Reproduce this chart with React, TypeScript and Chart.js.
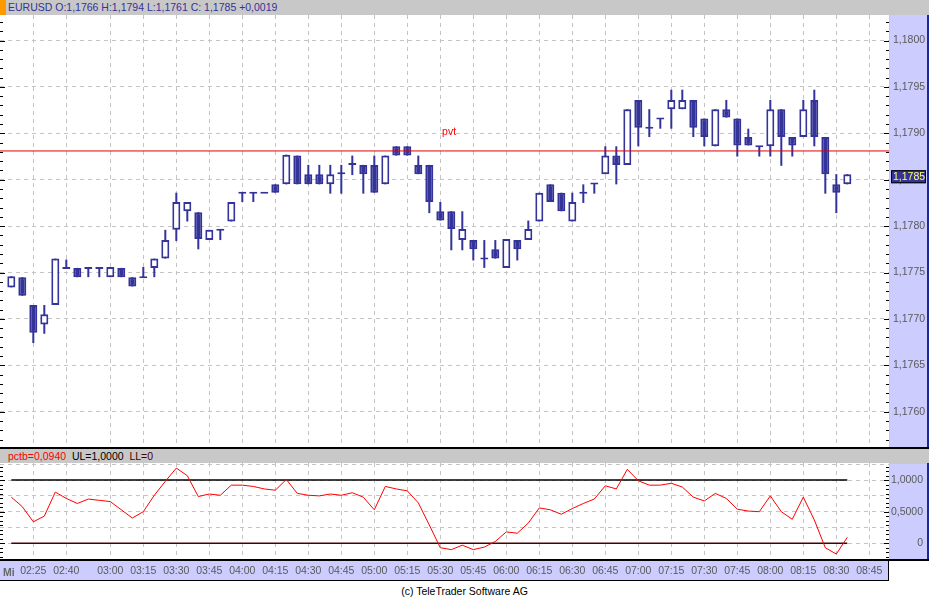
import React, { useEffect, useRef } from "react";
import { Chart, registerables } from "chart.js";
Chart.register(...registerables);

// ---------- data ----------
const times = [
  "02:15","02:20","02:25","02:30","02:35","02:40","02:45","02:50","02:55","03:00",
  "03:05","03:10","03:15","03:20","03:25","03:30","03:35","03:40","03:45","03:50",
  "03:55","04:00","04:05","04:10","04:15","04:20","04:25","04:30","04:35","04:40",
  "04:45","04:50","04:55","05:00","05:05","05:10","05:15","05:20","05:25","05:30",
  "05:35","05:40","05:45","05:50","05:55","06:00","06:05","06:10","06:15","06:20",
  "06:25","06:30","06:35","06:40","06:45","06:50","06:55","07:00","07:05","07:10",
  "07:15","07:20","07:25","07:30","07:35","07:40","07:45","07:50","07:55","08:00",
  "08:05","08:10","08:15","08:20","08:25","08:30","08:35",
];

const opens = [
  1.17734,1.17745,1.17715,1.17694,1.17715,1.17755,1.17755,1.17755,1.17755,1.17745,
  1.17755,1.17745,1.17745,1.17755,1.17765,1.17796,1.17816,1.17815,1.17785,1.17796,
  1.17805,1.17836,1.17836,1.17836,1.17845,1.17845,1.17876,1.17856,1.17856,1.17845,
  1.17857,1.17867,1.17866,1.17866,1.17845,1.17886,1.17886,1.17866,1.17866,1.17816,
  1.17816,1.17785,1.17785,1.17765,1.17775,1.17755,1.17785,1.17785,1.17805,1.17845,
  1.17836,1.17805,1.17836,1.17846,1.17856,1.17876,1.17866,1.17936,1.17906,1.17916,
  1.17926,1.17926,1.17936,1.17916,1.17886,1.17926,1.17916,1.17896,1.17886,1.17886,
  1.17926,1.17896,1.17896,1.17936,1.17896,1.17845,1.17845,
];
const highs = [
  1.17746,1.17745,1.17715,1.17715,1.17765,1.17764,1.17755,1.17755,1.17755,1.17756,
  1.17755,1.17745,1.17756,1.17765,1.17796,1.17836,1.17826,1.17815,1.17796,1.17796,
  1.17826,1.17836,1.17836,1.17836,1.17845,1.17877,1.17876,1.17866,1.17866,1.17866,
  1.17866,1.17876,1.17866,1.17876,1.17876,1.17886,1.17886,1.17876,1.17866,1.17826,
  1.17816,1.17816,1.17785,1.17785,1.17785,1.17786,1.17785,1.17806,1.17836,1.17845,
  1.17836,1.17836,1.17845,1.17846,1.17886,1.17886,1.17926,1.17936,1.17926,1.17916,
  1.17947,1.17947,1.17936,1.17916,1.17926,1.17936,1.17916,1.17905,1.17886,1.17936,
  1.17926,1.17896,1.17936,1.17947,1.17896,1.17856,1.17856,
];
const lows = [
  1.17734,1.17725,1.17674,1.17684,1.17715,1.17755,1.17745,1.17745,1.17745,1.17745,
  1.17745,1.17735,1.17745,1.17745,1.17765,1.17784,1.17805,1.17775,1.17785,1.17785,
  1.17805,1.17826,1.17826,1.17836,1.17836,1.17845,1.17845,1.17845,1.17845,1.17835,
  1.17835,1.17855,1.17835,1.17836,1.17845,1.17876,1.17876,1.17856,1.17814,1.17806,
  1.17774,1.17774,1.17763,1.17755,1.17765,1.17755,1.17763,1.17785,1.17805,1.17826,
  1.17816,1.17805,1.17825,1.17835,1.17856,1.17845,1.17866,1.17886,1.17896,1.17905,
  1.17905,1.17926,1.17896,1.17886,1.17886,1.17917,1.17875,1.17887,1.17875,1.17875,
  1.17865,1.17875,1.17896,1.17886,1.17835,1.17814,1.17845,
];
const closes = [
  1.17746,1.17725,1.17685,1.17705,1.17765,1.17755,1.17745,1.17755,1.17755,1.17756,
  1.17745,1.17735,1.17745,1.17765,1.17785,1.17826,1.17826,1.17786,1.17796,1.17796,
  1.17826,1.17836,1.17836,1.17836,1.17836,1.17877,1.17845,1.17845,1.17845,1.17856,
  1.17857,1.17867,1.17856,1.17836,1.17876,1.17876,1.17876,1.17856,1.17826,1.17806,
  1.17797,1.17797,1.17775,1.17765,1.17765,1.17786,1.17775,1.17797,1.17836,1.17826,
  1.17816,1.17826,1.17836,1.17846,1.17876,1.17866,1.17926,1.17906,1.17906,1.17916,
  1.17936,1.17936,1.17906,1.17896,1.17926,1.17917,1.17887,1.17887,1.17886,1.17926,
  1.17896,1.17887,1.17926,1.17896,1.17856,1.17836,1.17856,
];
const pctb = [
  0.73,0.58,0.34,0.43,0.81,0.71,0.63,0.70,0.68,0.66,
  0.53,0.40,0.50,0.76,0.98,1.19,1.07,0.74,0.78,0.76,
  0.92,0.92,0.90,0.86,0.84,1.01,0.79,0.76,0.75,0.78,
  0.76,0.80,0.73,0.53,0.90,0.86,0.83,0.64,0.29,-0.07,
  -0.10,-0.03,-0.10,-0.06,0.03,0.18,0.16,0.32,0.56,0.53,
  0.46,0.55,0.63,0.70,0.91,0.86,1.17,0.99,0.92,0.92,
  0.95,0.89,0.73,0.67,0.79,0.71,0.54,0.51,0.50,0.75,
  0.50,0.38,0.73,0.37,-0.07,-0.17,0.094,
];
const tickTimes = [
  "02:25","02:40","03:00","03:15","03:30","03:45","04:00","04:15","04:30","04:45",
  "05:00","05:15","05:30","05:45","06:00","06:15","06:30","06:45","07:00","07:15",
  "07:30","07:45","08:00","08:15","08:30","08:45",
];
const priceTicks = [1.176, 1.1765, 1.177, 1.1775, 1.178, 1.1785, 1.179, 1.1795, 1.18];
const pctbTicks = [-0.25, 0, 0.25, 0.5, 0.75, 1, 1.25];
const pctbLabels = [0, 0.5, 1];
const PIVOT = 1.17881;
const PIVOT_LABEL_TIME = "05:34";
const LAST_PRICE = 1.1785;
const UL = 1.0;
const LL = 0;

// ---------- style ----------
const FONT = '"Liberation Sans", Arial, Helvetica, sans-serif';
const BLUE = "#333399";
const LAVENDER = "#ccccff";
const GRID = "#c4c4c4";
const AXIS_TXT = "#5a5a5a";
const HEADER_GRAY = "#c8c8c8";
const X_MIN = 129.86;
const X_MAX = 533.95;
const Y_MIN = 1.17562;
const Y_MAX = 1.180275;
const P_MIN = -0.2642;
const P_MAX = 1.2706;

const toMin = (s: string) => {
  const [h, m] = s.split(":").map(Number);
  return h * 60 + m;
};
const fmt4 = (v: number) => v.toFixed(4).replace(".", ",");

export default function App() {
  const mainRef = useRef<HTMLCanvasElement>(null);
  const lowRef = useRef<HTMLCanvasElement>(null);

  useEffect(() => {
    const xs = times.map(toMin);
    const DOJI = 0.0000108;

    const wickData = xs.map((x, i) => ({ x, y: [lows[i], highs[i]] }));
    const bodyData = xs.map((x, i) => {
      const o = opens[i], c = closes[i];
      if (Math.abs(o - c) < 0.000005) return { x, y: [c - DOJI, c + DOJI] };
      return { x, y: [Math.min(o, c), Math.max(o, c)] };
    });
    const bodyFill = xs.map((_, i) => (closes[i] > opens[i] + 0.000005 ? "#ffffff" : BLUE));

    const mainDeco = {
      id: "mainDeco",
      beforeDraw(chart: any) {
        const { ctx, chartArea: a, scales } = chart;
        const y = scales.y;
        ctx.save();
        ctx.fillStyle = "#ffffff";
        ctx.fillRect(0, 0, chart.width, chart.height);
        ctx.fillStyle = LAVENDER;
        ctx.fillRect(y.left, a.top, y.right - y.left, a.bottom - a.top);
        ctx.restore();
      },
      afterDraw(chart: any) {
        const { ctx, chartArea: a, scales } = chart;
        const y = scales.y;
        const x = scales.x;
        ctx.save();
        ctx.fillStyle = "#f0c868";
        ctx.fillRect(y.left, a.top, 1, a.bottom - a.top);
        ctx.fillStyle = "#1a2a90";
        ctx.fillRect(chart.width - 2, a.top, 2, a.bottom - a.top);
        ctx.fillStyle = "#000000";
        for (let k = 0; k <= 50; k++) {
          const v = 1.1755 + k * 0.0001;
          const py = Math.round(y.getPixelForValue(v));
          if (py < a.top + 1 || py > a.bottom - 1) continue;
          const major = k % 5 === 0;
          const len = major ? 5 : 3;
          ctx.fillRect(0, py, len, 1);
          ctx.fillRect(y.left - len, py, len, 1);
        }
        ctx.font = `10.5px ${FONT}`;
        ctx.textBaseline = "middle";
        // axis labels
        ctx.fillStyle = AXIS_TXT;
        ctx.textAlign = "left";
        y.ticks.forEach((t: any) => {
          ctx.fillText(fmt4(t.value), y.left + 4, y.getPixelForValue(t.value));
        });
        // pivot label
        ctx.fillStyle = "#ff0000";
        ctx.textAlign = "center";
        ctx.fillText("pvt", x.getPixelForValue(toMin(PIVOT_LABEL_TIME)), y.getPixelForValue(PIVOT) - 19);
        // current price box
        const cy = y.getPixelForValue(LAST_PRICE) - 3;
        const bx = y.left + 2, bw = y.right - y.left - 5;
        ctx.fillStyle = BLUE;
        ctx.fillRect(bx, cy - 6.5, bw, 13);
        ctx.strokeStyle = "#000000";
        ctx.lineWidth = 1;
        ctx.strokeRect(bx + 0.5, cy - 6, bw - 1, 12);
        ctx.fillStyle = "#ffff70";
        ctx.textAlign = "left";
        ctx.fillText(fmt4(LAST_PRICE), bx + 2, cy + 0.5);
        ctx.restore();
      },
    };

    const main = new Chart(mainRef.current as HTMLCanvasElement, {
      type: "bar",
      data: {
        datasets: [
          {
            type: "line",
            data: [{ x: X_MIN, y: PIVOT }, { x: X_MAX, y: PIVOT }],
            borderColor: "#e00000",
            borderWidth: 1,
            pointRadius: 0,
            order: 0,
          } as any,
          {
            data: bodyData as any,
            backgroundColor: bodyFill,
            borderColor: BLUE,
            borderWidth: 2,
            borderSkipped: false,
            barThickness: 8,
            inflateAmount: 0,
            order: 1,
          } as any,
          {
            data: wickData as any,
            backgroundColor: BLUE,
            borderWidth: 0,
            barThickness: 2,
            inflateAmount: 0,
            order: 2,
          } as any,
        ],
      },
      options: {
        responsive: false,
        animation: false,
        layout: { padding: 0 },
        plugins: { legend: { display: false }, tooltip: { enabled: false } },
        datasets: { bar: { grouped: false } } as any,
        scales: {
          x: {
            type: "linear",
            min: X_MIN,
            max: X_MAX,
            offset: false,
            afterBuildTicks: (s: any) => {
              s.ticks = tickTimes.map((t) => ({ value: toMin(t) }));
            },
            afterFit: (s: any) => {
              s.height = 0;
            },
            ticks: { display: false },
            grid: { color: GRID, drawTicks: false, offset: false },
            border: { display: false, dash: [4, 4] },
          },
          y: {
            position: "right",
            min: Y_MIN,
            max: Y_MAX,
            afterBuildTicks: (s: any) => {
              s.ticks = priceTicks.map((v) => ({ value: v }));
            },
            afterFit: (s: any) => {
              s.width = 40;
            },
            ticks: { display: false },
            grid: { color: GRID, drawTicks: false },
            border: { display: false, dash: [4, 4] },
          },
        },
      } as any,
      plugins: [mainDeco],
    });

    const lowDeco = {
      id: "lowDeco",
      beforeDraw(chart: any) {
        const { ctx, chartArea: a, scales } = chart;
        const y = scales.y;
        ctx.save();
        ctx.fillStyle = "#ffffff";
        ctx.fillRect(0, 0, chart.width, chart.height);
        ctx.fillStyle = LAVENDER;
        ctx.fillRect(y.left, a.top, y.right - y.left, a.bottom - a.top);
        ctx.fillRect(0, a.bottom, a.right, chart.height - a.bottom);
        ctx.restore();
      },
      afterDraw(chart: any) {
        const { ctx, chartArea: a, scales } = chart;
        const y = scales.y;
        ctx.save();
        ctx.fillStyle = "#f0c868";
        ctx.fillRect(y.left, a.top, 1, a.bottom - a.top);
        ctx.fillRect(y.left, a.top, y.right - y.left, 1);
        ctx.fillStyle = "#1a2a90";
        ctx.fillRect(chart.width - 2, a.top, 2, a.bottom - a.top);
        ctx.fillStyle = "#000000";
        ctx.fillRect(0, a.bottom - 1, chart.width, 2);
        ctx.fillRect(0, chart.height - 1, a.right, 1);
        ctx.fillRect(a.right - 1, a.bottom, 1, chart.height - a.bottom);
        for (let k = -4; k <= 19; k++) {
          const v = (k * 0.5) / 7;
          const py = Math.round(y.getPixelForValue(v));
          if (py < a.top + 1 || py > a.bottom - 2) continue;
          const major = k % 7 === 0;
          const len = major ? 5 : 3;
          ctx.fillRect(0, py, len, 1);
          ctx.fillRect(y.left - len, py, len, 1);
        }
        ctx.font = `10.5px ${FONT}`;
        ctx.textBaseline = "middle";
        ctx.textAlign = "right";
        ctx.fillStyle = AXIS_TXT;
        y.ticks.forEach((t: any) => {
          const n = Number(t.value);
          if (!pctbLabels.includes(n)) return;
          ctx.fillText(n === 0 ? "0" : fmt4(n), y.right - 6, y.getPixelForValue(n));
        });
        ctx.restore();
      },
    };

    const first = xs[0];
    const last = xs[xs.length - 1];
    const low = new Chart(lowRef.current as HTMLCanvasElement, {
      type: "line",
      data: {
        datasets: [
          {
            data: xs.map((x, i) => ({ x, y: pctb[i] })),
            borderColor: "#ff0000",
            borderWidth: 1,
            pointRadius: 0,
            tension: 0,
            order: 0,
          },
          {
            data: [{ x: first, y: UL }, { x: last, y: UL }],
            borderColor: "#000000",
            borderWidth: 1.5,
            pointRadius: 0,
            order: 1,
          },
          {
            data: [{ x: first, y: LL }, { x: last, y: LL }],
            borderColor: "#4a0000",
            borderWidth: 1.5,
            pointRadius: 0,
            order: 2,
          },
        ],
      },
      options: {
        responsive: false,
        animation: false,
        layout: { padding: 0 },
        plugins: { legend: { display: false }, tooltip: { enabled: false } },
        scales: {
          x: {
            type: "linear",
            min: X_MIN,
            max: X_MAX,
            offset: false,
            afterBuildTicks: (s: any) => {
              s.ticks = tickTimes.map((t) => ({ value: toMin(t) }));
            },
            afterFit: (s: any) => {
              s.height = 21;
            },
            ticks: {
              color: AXIS_TXT,
              font: { family: FONT, size: 10.5 },
              padding: 5,
              maxRotation: 0,
              autoSkip: false,
              callback: (_v: any, i: number) => tickTimes[i],
            },
            grid: { color: GRID, drawTicks: false, offset: false },
            border: { display: false, dash: [4, 4] },
          },
          y: {
            position: "right",
            min: P_MIN,
            max: P_MAX,
            afterBuildTicks: (s: any) => {
              s.ticks = pctbTicks.map((v) => ({ value: v }));
            },
            afterFit: (s: any) => {
              s.width = 40;
            },
            ticks: { display: false },
            grid: { color: GRID, drawTicks: false },
            border: { display: false, dash: [4, 4] },
          },
        },
      } as any,
      plugins: [lowDeco],
    });

    return () => {
      main.destroy();
      low.destroy();
    };
  }, []);

  const txt: React.CSSProperties = {
    position: "absolute",
    fontFamily: FONT,
    fontSize: "10.5px",
    lineHeight: "14px",
    whiteSpace: "nowrap",
  };

  return (
    <div
      style={{
        position: "absolute",
        left: 0,
        top: 0,
        width: 929,
        height: 598,
        background: "#ffffff",
        overflow: "hidden",
        fontFamily: FONT,
      }}
    >
      <div style={{ position: "absolute", left: 0, top: 0, width: 929, height: 15, background: HEADER_GRAY }} />
      <div style={{ position: "absolute", left: 0, top: 0, width: 6, height: 15, background: "#ff9900" }} />
      <div style={{ ...txt, left: 8, top: 0, lineHeight: "15px", color: BLUE }}>
        EURUSD O:1,1766 H:1,1794 L:1,1761 C: 1,1785 +0,0019
      </div>
      <canvas ref={mainRef} width={929} height={432} style={{ position: "absolute", left: 0, top: 15 }} />
      <div style={{ position: "absolute", left: 0, top: 447, width: 929, height: 2, background: "#000000" }} />
      <div style={{ position: "absolute", left: 0, top: 449, width: 929, height: 14, background: HEADER_GRAY }} />
      <div style={{ ...txt, left: 8, top: 449 }}>
        <span style={{ color: "#ff0000" }}>pctb=0,0940</span>
        <span style={{ color: "#000000" }}>&nbsp; UL=1,0000</span>
        <span style={{ color: "#4a0000" }}>&nbsp; LL=0</span>
      </div>
      <canvas ref={lowRef} width={929} height={118} style={{ position: "absolute", left: 0, top: 463 }} />
      <div style={{ ...txt, left: 3, top: 565, color: "#666666", fontWeight: "bold" }}>Mi</div>
      <div style={{ ...txt, left: 0, width: 929, top: 584, textAlign: "center", color: "#000000" }}>
        (c) TeleTrader Software AG
      </div>
    </div>
  );
}
